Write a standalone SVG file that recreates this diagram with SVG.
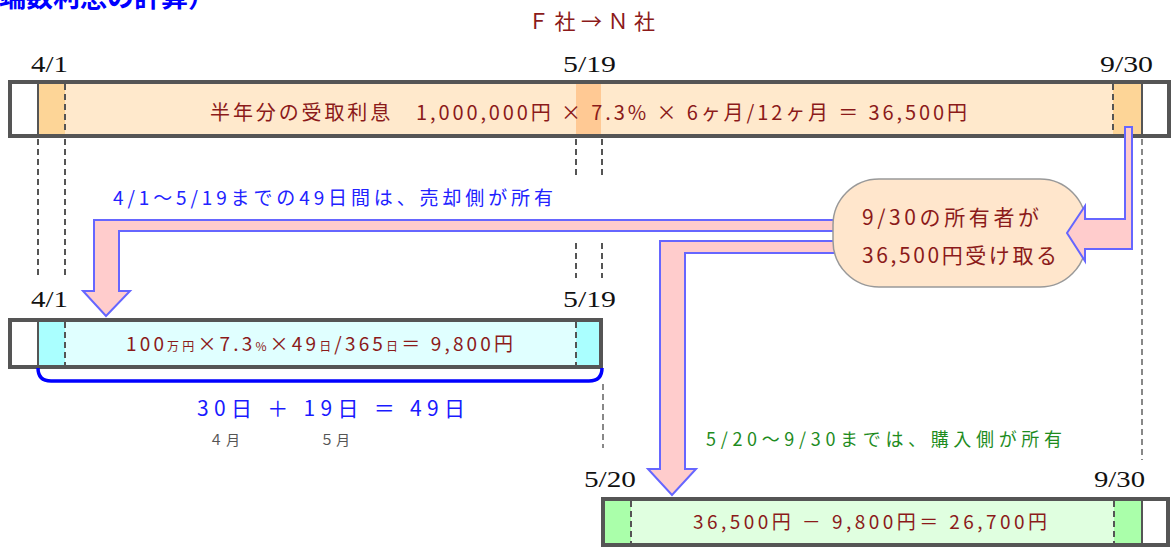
<svg xmlns="http://www.w3.org/2000/svg" width="1171" height="547" viewBox="0 0 1171 547">
<style>
.jp{font-family:'Noto Sans CJK JP','Noto Sans',sans-serif}
.red{fill:#8B1A1A}
.date{font-family:'Liberation Serif',serif;font-size:24px;fill:#111}
.border{fill:none;stroke:#555;stroke-width:4}
.sep{stroke:#555;stroke-width:2}
.dd{stroke:#555;stroke-width:2;stroke-dasharray:6,4;fill:none}
.dg{stroke:#888;stroke-width:2;stroke-dasharray:6,4;fill:none}
.arrow{fill:#FFCCCC;stroke:#6666FF;stroke-width:2;stroke-linejoin:miter}
</style>
<rect width="1171" height="547" fill="#fff"/>

<text class="jp" x="-1" y="7" font-size="27" font-weight="bold" fill="#0000FF">端数利息の計算）</text>
<text class="jp red" x="528" y="29" font-size="21" textLength="127" lengthAdjust="spacing">Ｆ社→Ｎ社</text>

<g id="connectors">
  <line class="dd" x1="38" y1="139" x2="38" y2="276"/>
  <line class="dd" x1="65" y1="139" x2="65" y2="278"/>
  <line class="dd" x1="576" y1="139" x2="576" y2="177"/>
  <line class="dd" x1="602" y1="139" x2="602" y2="177"/>
  <line class="dd" x1="576" y1="243" x2="576" y2="278"/>
  <line class="dd" x1="602" y1="243" x2="602" y2="278"/>
  <line class="dg" x1="603" y1="384" x2="603" y2="448"/>
  <line class="dg" x1="1142" y1="139" x2="1142" y2="460"/>
  <polygon id="arrow-seller" class="arrow" points="870,220 94,220 94,291 83,291 106,316 130,291 119,291 119,231 870,231"/>
  <polygon id="arrow-buyer" class="arrow" points="870,241 660,241 660,469 648,469 672,495 696,469 685,469 685,253 870,253"/>
</g>

<g id="top-bar">
  <text class="date" x="31" y="72" textLength="37" lengthAdjust="spacingAndGlyphs">4/1</text>
  <text class="date" x="563" y="72" textLength="53" lengthAdjust="spacingAndGlyphs">5/19</text>
  <text class="date" x="1100" y="72" textLength="53" lengthAdjust="spacingAndGlyphs">9/30</text>
  <rect x="10" y="82" width="1159" height="54" fill="#FFE9CC"/>
  <rect x="12" y="84" width="26" height="50" fill="#fff"/>
  <rect x="39" y="84" width="26" height="50" fill="#FDD597"/>
  <rect x="576" y="84" width="25" height="50" fill="#FFC994"/>
  <rect x="1113" y="84" width="29" height="50" fill="#FDD597"/>
  <rect x="1142" y="84" width="25" height="50" fill="#fff"/>
  <line class="sep" x1="38" y1="84" x2="38" y2="134"/>
  <line class="sep" x1="1142" y1="84" x2="1142" y2="134"/>
  <line class="dd" x1="65" y1="84" x2="65" y2="134"/>
  <line class="dd" x1="1113" y1="84" x2="1113" y2="134"/>
  <rect class="border" x="10" y="82" width="1159" height="54"/>
  <text class="jp red" x="210" y="120" font-size="20" textLength="757" lengthAdjust="spacing">半年分の受取利息　1,000,000円 × 7.3% × 6ヶ月/12ヶ月 ＝ 36,500円</text>
</g>

<text class="jp" x="113" y="205" font-size="19" fill="#2222FF" textLength="440" lengthAdjust="spacing">4/1～5/19までの49日間は、売却側が所有</text>

<g id="bubble">
  <rect x="833" y="179" width="253" height="108" rx="46" ry="46" fill="#FFE6CC" stroke="#999" stroke-width="1.5"/>
  <text class="jp red" x="862" y="225" font-size="21" textLength="177" lengthAdjust="spacing">9/30の所有者が</text>
  <text class="jp red" x="862" y="263" font-size="21" textLength="195" lengthAdjust="spacing">36,500円受け取る</text>
</g>

<polygon id="arrow-receive" class="arrow" points="1125,127 1132,127 1132,249 1085,249 1085,261 1067,233 1085,206 1085,219 1125,219"/>

<g id="seller-bar">
  <text class="date" x="31" y="307" textLength="37" lengthAdjust="spacingAndGlyphs">4/1</text>
  <text class="date" x="563" y="307" textLength="53" lengthAdjust="spacingAndGlyphs">5/19</text>
  <rect x="10" y="320" width="591" height="47" fill="#E0FFFF"/>
  <rect x="12" y="322" width="26" height="43" fill="#fff"/>
  <rect x="39" y="322" width="26" height="43" fill="#AAFFFF"/>
  <rect x="576" y="322" width="24" height="43" fill="#AAFFFF"/>
  <line class="sep" x1="38" y1="322" x2="38" y2="365"/>
  <line class="dd" x1="65" y1="322" x2="65" y2="365"/>
  <line class="dd" x1="576" y1="322" x2="576" y2="365"/>
  <rect class="border" x="10" y="320" width="591" height="47"/>
  <text class="jp red" x="126" y="351" font-size="19" textLength="387" lengthAdjust="spacing">100<tspan font-size="12">万円</tspan>×7.3<tspan font-size="12">%</tspan>×49<tspan font-size="12">日</tspan>/365<tspan font-size="12">日</tspan>＝ 9,800円</text>
  <path d="M38,368 Q38,381 51,381 L589,381 Q602,381 602,368" fill="none" stroke="#0000FF" stroke-width="3.5"/>
  <text class="jp" x="197" y="416" font-size="21" fill="#1a1aff" textLength="268" lengthAdjust="spacing">30日 ＋ 19日 ＝ 49日</text>
  <text class="jp" x="209" y="445" font-size="14" fill="#555" textLength="31" lengthAdjust="spacing">４月</text>
  <text class="jp" x="320" y="445" font-size="14" fill="#555" textLength="30" lengthAdjust="spacing">５月</text>
</g>

<text class="jp" x="706" y="446" font-size="18" fill="#1E8C1E" textLength="356" lengthAdjust="spacing">5/20～9/30までは、購入側が所有</text>

<g id="buyer-bar">
  <text class="date" x="584" y="487" textLength="52" lengthAdjust="spacingAndGlyphs">5/20</text>
  <text class="date" x="1094" y="487" textLength="51" lengthAdjust="spacingAndGlyphs">9/30</text>
  <rect x="603" y="499" width="565" height="46" fill="#E0FFE0"/>
  <rect x="605" y="501" width="26" height="42" fill="#AAFFAA"/>
  <rect x="1114" y="501" width="28" height="42" fill="#AAFFAA"/>
  <rect x="1142" y="501" width="24" height="42" fill="#fff"/>
  <line class="sep" x1="1142" y1="501" x2="1142" y2="543"/>
  <line class="dd" x1="631" y1="501" x2="631" y2="543"/>
  <line class="dd" x1="1114" y1="501" x2="1114" y2="543"/>
  <rect class="border" x="603" y="499" width="565" height="46"/>
  <text class="jp red" x="693" y="529" font-size="19" textLength="354" lengthAdjust="spacing">36,500円 － 9,800円＝ 26,700円</text>
</g>
</svg>
